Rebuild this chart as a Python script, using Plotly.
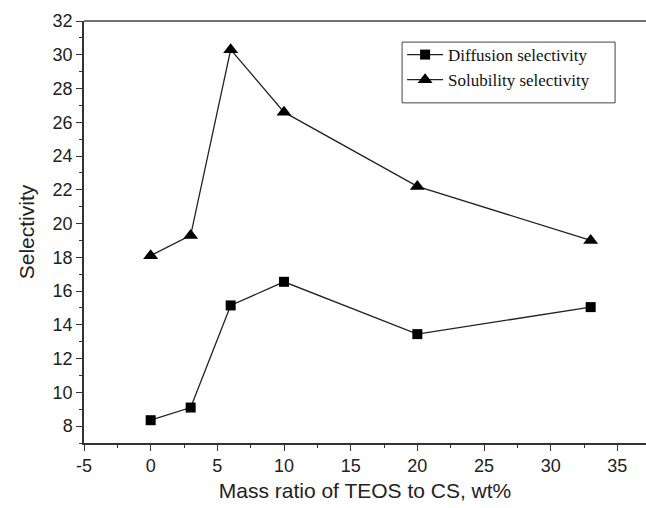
import plotly.graph_objects as go

mass_ratio = [0, 3, 6, 10, 20, 33]
diffusion = [8.35, 9.1, 15.15, 16.55, 13.45, 15.05]
solubility = [18.1, 19.3, 30.3, 26.6, 22.2, 19.0]

x_tickvals = [-5, 0, 5, 10, 15, 20, 25, 30, 35]
x_ticktext = ["-5", "0", "5", "10", "15", "20", "25", "30", "35"]
y_tickvals = [8, 10, 12, 14, 16, 18, 20, 22, 24, 26, 28, 30, 32]

fig = go.Figure()
fig.add_trace(go.Scatter(
    x=mass_ratio, y=diffusion, mode="lines+markers", name="Diffusion selectivity",
    line=dict(color="#222222", width=1.3),
    marker=dict(symbol="square", size=10, color="black"),
))
fig.add_trace(go.Scatter(
    x=mass_ratio, y=solubility, mode="lines+markers", name="Solubility selectivity",
    line=dict(color="#222222", width=1.3),
    marker=dict(symbol="triangle-up", size=13, color="black"),
))

axis_common = dict(
    showgrid=False, zeroline=False, showline=True, linecolor="#333333", linewidth=1.5,
    ticks="outside", ticklen=6, tickwidth=1.3, tickcolor="#333333",
    tickfont=dict(family="Liberation Sans, Arial", size=18, color="#222222"),
)
title_font = dict(family="Liberation Sans, Arial", size=21, color="#222222")
fig.update_xaxes(
    range=[-5, 37.15], tickmode="array", tickvals=x_tickvals, ticktext=x_ticktext, mirror=False,
    minor=dict(ticks="outside", ticklen=3, dtick=2.5, tick0=-5, tickcolor="#333333", tickwidth=1),
    title=dict(text="Mass ratio of TEOS to CS, wt%", font=title_font, standoff=8),
    **axis_common,
)
fig.update_yaxes(
    range=[7, 32], tickmode="array", tickvals=y_tickvals, mirror=False,
    minor=dict(ticks="outside", ticklen=3, dtick=1, tick0=7, tickcolor="#333333", tickwidth=1),
    title=dict(text="Selectivity", font=title_font, standoff=12),
    **axis_common,
)
# top frame line
fig.add_shape(type="line", xref="paper", yref="paper", x0=0, x1=1, y0=1, y1=1,
              line=dict(color="#444444", width=1.5))
# legend frame
fig.add_shape(type="rect", xref="paper", yref="paper", x0=0.566, x1=0.945, y0=0.806, y1=0.950,
              line=dict(color="#444444", width=1), fillcolor="rgba(0,0,0,0)")

fig.update_layout(
    width=646, height=508,
    margin=dict(l=84, r=0, t=21, b=65),
    paper_bgcolor="white", plot_bgcolor="white",
    showlegend=True,
    legend=dict(
        x=0.566, y=0.962, xanchor="left", yanchor="top",
        bgcolor="rgba(0,0,0,0)", borderwidth=0,
        font=dict(family="Liberation Serif, Times New Roman", size=17, color="#111111"),
        tracegroupgap=0, itemwidth=36,
    ),
)
fig.write_html("out.html")
